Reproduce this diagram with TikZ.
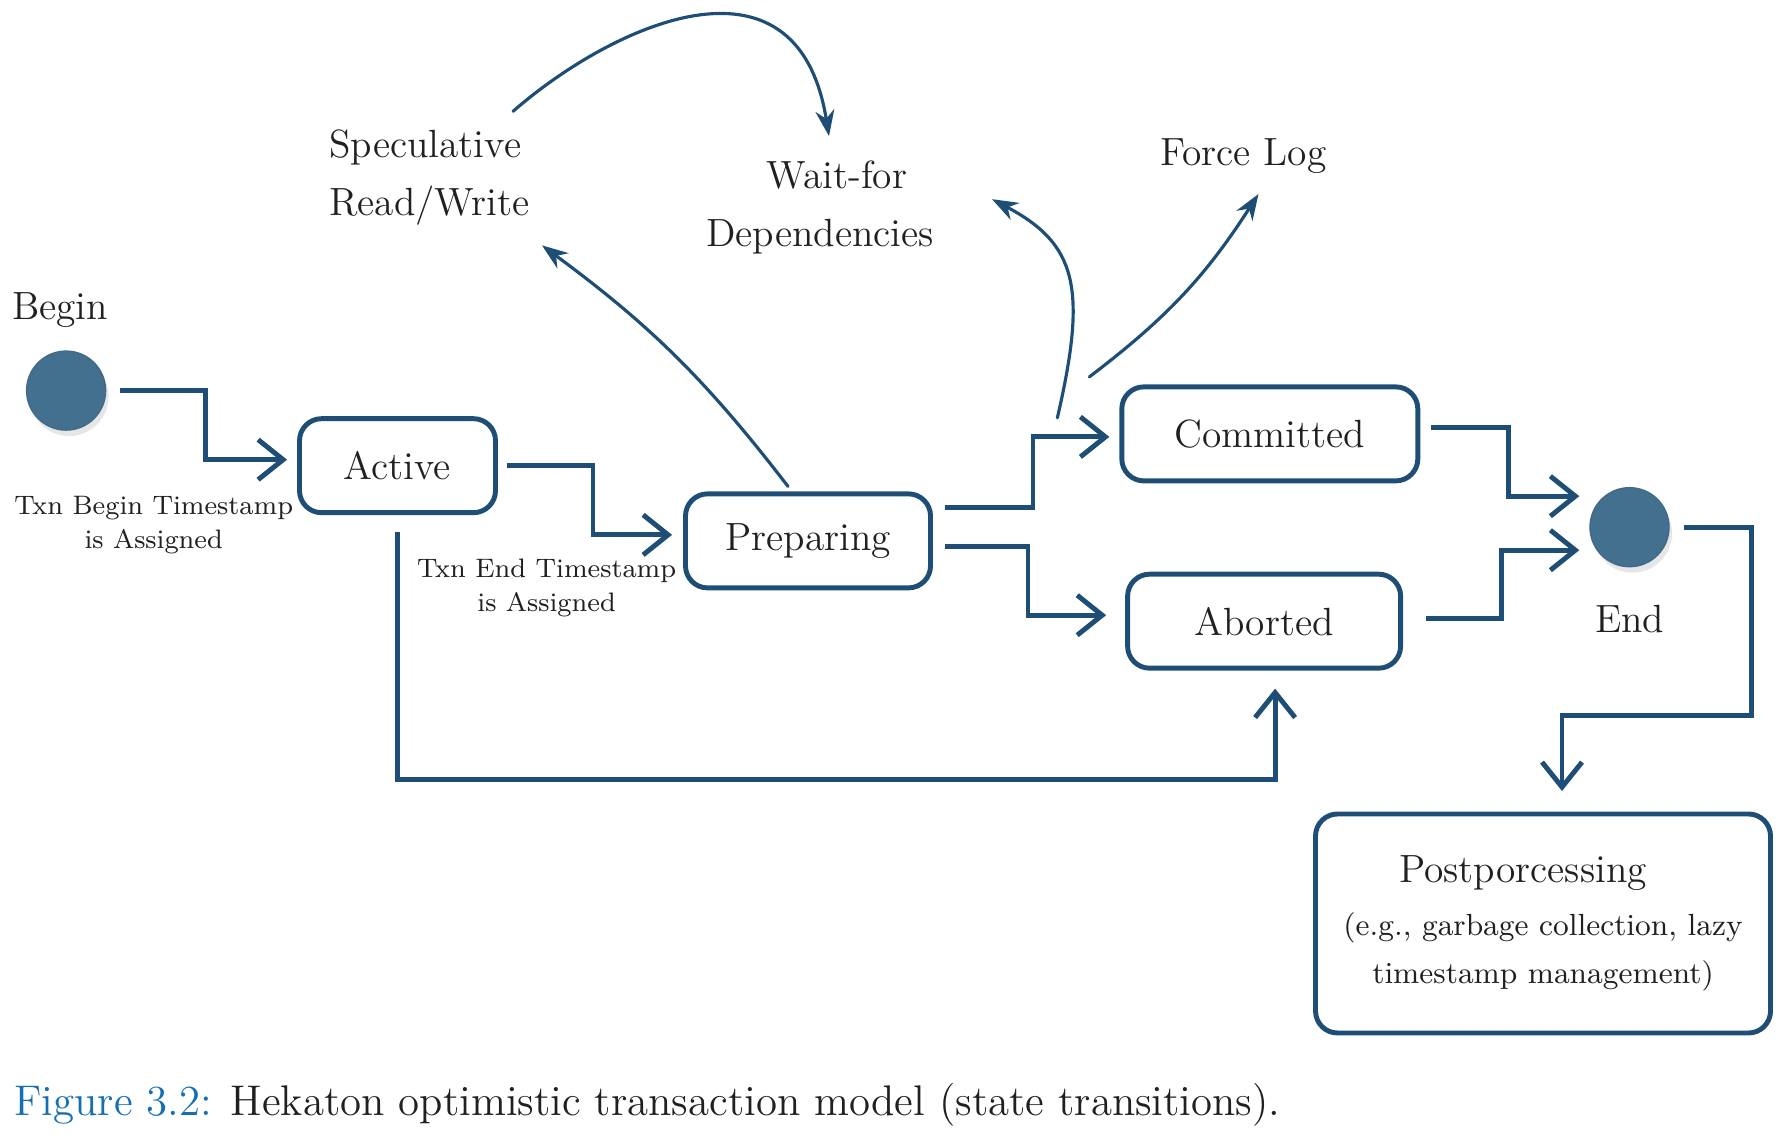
\documentclass[tikz,border=0pt]{standalone}
\usetikzlibrary{arrows.meta, positioning, shadows}

\definecolor{flowblue}{RGB}{30,78,117}
\definecolor{dotblue}{RGB}{68,112,143}
\definecolor{capblue}{RGB}{22,110,178}
\definecolor{inkblack}{RGB}{35,31,32}

\newcommand\postnote{\fontsize{8.7}{13}\selectfont}

\begin{document}
\begin{tikzpicture}[
    state/.style={
        draw=flowblue,
        line width=1.4pt,
        rounded corners=2.2mm,
        minimum height=9.4mm,
        inner sep=0pt,
        text=inkblack,
        font=\fontsize{11.2}{13.5}\selectfont,
    },
    terminal/.style={
        circle,
        draw=flowblue!85,
        fill=dotblue,
        minimum size=7.9mm,
        inner sep=0pt,
        drop shadow={opacity=0.2, shadow xshift=0.3mm, shadow yshift=-0.6mm},
    },
    flow/.style={
        draw=flowblue,
        line width=1.4pt,
        -{Straight Barb[length=2.5mm,width=4mm]},
    },
    hop/.style={
        draw=flowblue,
        line width=0.9pt,
        -{Stealth[length=2.6mm,width=1.9mm]},
        line cap=round,
    },
    tag/.style={
        text=inkblack,
        font=\fontsize{11.2}{16.5}\selectfont,
    },
    note/.style={
        text=inkblack,
        align=center,
        font=\fontsize{7.6}{9.7}\selectfont,
    }
]
    \useasboundingbox (0,0) rectangle (17.82,11.38);

    % States
    \node[terminal] (beginstate) at (0.661,7.474) {};
    \node[state, minimum width=19.6mm] (active) at (3.975,6.723) {Active};
    \node[state, minimum width=24.5mm] (prep) at (8.080,5.971) {Preparing};
    \node[state, minimum width=29.6mm] (commit) at (12.698,7.041) {Committed};
    \node[state, minimum width=27.3mm] (abort) at (12.641,5.168) {Aborted};
    \node[terminal] (endstate) at (16.295,6.108) {};
    \node[state, minimum width=45.5mm, minimum height=21.9mm, align=center]
        (post) at (15.430,2.145)
        {Postporcessing\hspace*{4mm}\\[1.6pt]\postnote (e.g., garbage collection, lazy\\\postnote timestamp management)};

    % Labels
    \node[tag, above=1mm of beginstate, xshift=-0.6mm] (beginlbl) {Begin};
    \node[tag, below=2.5mm of endstate] (endlbl) {End};
    \node[note] (beginnote) at (1.537,6.130) {Txn Begin Timestamp\\is Assigned};
    \node[note] (endnote) at (5.466,5.504) {Txn End Timestamp\\is Assigned};
    \node[tag, align=left, anchor=west] (spec) at (3.170,9.606) {Speculative\\Read/Write};
    \node[tag, align=center] (wait) at (8.200,9.308) {\hspace*{3.4mm}Wait-for\\Dependencies};
    \node[tag] (force) at (12.435,9.820) {Force Log};

    % Transitions
    \draw[flow, shorten <=1.4mm, shorten >=1mm] (beginstate.east) -- ++(0.99,0) |- ([yshift=0.6mm]active.west);
    \draw[flow, shorten <=0.9mm, shorten >=1.1mm] (active.east) -- ++(0.95,0) |- ([yshift=0.6mm]prep.west);
    \draw[flow, shorten <=1.25mm, shorten >=1mm] ([yshift=3.3mm]prep.east) -- ++(1.0,0) |- ([yshift=-0.3mm]commit.west);
    \draw[flow, shorten <=1.25mm, shorten >=1.9mm] ([yshift=-0.6mm]prep.east) -- ++(0.95,0) |- ([yshift=0.6mm]abort.west);
    \draw[flow, shorten <=1.1mm, shorten >=1mm] ([yshift=0.6mm]commit.east) -- ++(0.88,0) |- ([yshift=3.1mm]endstate.west);
    \draw[flow, shorten <=2.3mm, shorten >=1mm] ([yshift=0.3mm]abort.east) -- ++(0.98,0) |- ([yshift=-2.3mm]endstate.west);
    \draw[flow, shorten <=1.4mm, shorten >=2.05mm] (endstate.east) -- ++(0.82,0) |- ([xshift=1.9mm,yshift=9.6mm]post.north) -- ([xshift=1.9mm]post.north);
    \draw[flow, shorten <=1.7mm, shorten >=1.8mm] (active.south) -- ++(0,-2.64) -| ([xshift=1.1mm]abort.south);

    % Curved hops
    \draw[hop] ([xshift=-2mm,yshift=0.5mm]prep.north) to[bend right=8] ([xshift=22.5mm,yshift=-6.8mm]spec.west);
    \draw[hop] ([xshift=19.6mm,yshift=6.6mm]spec.west) .. controls +(0.96,0.84) and +(-0.32,1.99) .. ([xshift=0.9mm,yshift=7.1mm]wait.center);
    \draw[hop] ([xshift=-6.2mm,yshift=1.6mm]commit.west) .. controls +(0.3,1.3) and +(0.85,-0.45) .. ([xshift=17.2mm,yshift=0.8mm]wait.center);
    \draw[hop] ([xshift=-3mm,yshift=5.7mm]commit.west) to[bend right=10] ([xshift=1.5mm,yshift=-3.8mm]force.center);

    % Caption
    \node[anchor=west, text=inkblack, font=\fontsize{12.2}{14}\selectfont] (caption) at (0.02,0.33)
        {\textcolor{capblue}{Figure 3.2:} Hekaton optimistic transaction model (state transitions).};
\end{tikzpicture}
\end{document}
